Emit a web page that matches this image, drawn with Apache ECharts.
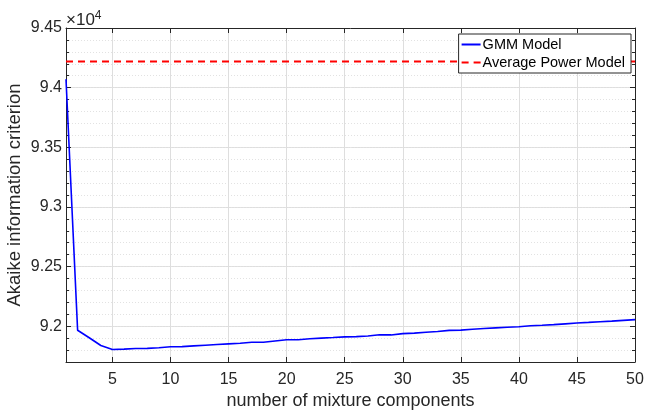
<!DOCTYPE html>
<html lang="en">
<head>
    <meta charset="UTF-8">
    <title>AIC vs mixture components</title>
    <script src="https://cdn.jsdelivr.net/npm/echarts@6.0.0/dist/echarts.min.js"></script>
    <style>
        html, body { margin: 0; padding: 0; background: #fff; }
    </style>
</head>
<body>
    <div id="chart" style="width: 645px; height: 413px;"></div>

    <script>
        // values
        var components = [];
        for (var k = 1; k <= 50; k++) components.push(k);

        var gmmAic = [
            94070, 91966, 91903, 91838, 91805, 91808, 91813, 91814, 91820, 91828,
            91829, 91835, 91841, 91847, 91852, 91857, 91865, 91866, 91876, 91886,
            91887, 91895, 91900, 91905, 91911, 91913, 91918, 91928, 91927, 91938,
            91942, 91950, 91956, 91965, 91967, 91975, 91981, 91986, 91991, 91995,
            92004, 92008, 92013, 92020, 92027, 92032, 92038, 92043, 92049, 92055
        ];
        var avgPowerAic = 94220;

        var xTicks = [5, 10, 15, 20, 25, 30, 35, 40, 45, 50];
        var yTicks = [92000, 92500, 93000, 93500, 94000, 94500];
        var yMin = 91700, yMax = 94500;

        var axisColor = '#262626';
        var font = 'Liberation Sans';

        var gmmData = components.map(function (c, i) { return [c, gmmAic[i]]; });
        var avgData = [[components[0], avgPowerAic], [components[components.length - 1], avgPowerAic]];

        var chart = echarts.init(document.getElementById('chart'));

        chart.setOption({
            animation: false,
            // exponent label of the y axis
            title: {
                text: '×10{sup|4}',
                left: 66,
                top: 10,
                padding: 0,
                textStyle: {
                    fontFamily: font,
                    fontSize: 17,
                    fontWeight: 'normal',
                    color: axisColor,
                    lineHeight: 20,
                    rich: {
                        sup: { fontFamily: font, fontSize: 12, fontWeight: 'normal', color: axisColor, lineHeight: 20, padding: [0, 0, 8, 0] }
                    }
                }
            },
            grid: { left: 66, right: 10, top: 28, bottom: 51, outerBoundsMode: 'none', containLabel: false },
            legend: {
                right: 14,
                top: 34,
                orient: 'vertical',
                backgroundColor: '#fff',
                borderColor: axisColor,
                borderWidth: 1,
                borderRadius: 0,
                padding: [3, 6, 3, 2],
                itemGap: 3,
                itemWidth: 19,
                itemHeight: 10,
                itemStyle: { color: 'rgba(0,0,0,0)', borderWidth: 0, opacity: 0 },
                textStyle: { fontFamily: font, fontSize: 14.5, color: '#000', padding: [0, 0, 0, -3] },
                data: ['GMM Model', 'Average Power Model']
            },
            xAxis: [
                {
                    type: 'value',
                    min: 1,
                    max: 50,
                    name: 'number of mixture components',
                    nameLocation: 'middle',
                    nameGap: 30,
                    nameMoveOverlap: false,
                    nameTextStyle: { fontFamily: font, fontSize: 18, color: axisColor },
                    axisLine: { lineStyle: { color: axisColor, width: 1 } },
                    axisTick: { inside: true, length: 5, customValues: xTicks, lineStyle: { color: axisColor } },
                    axisLabel: { customValues: xTicks, fontFamily: font, fontSize: 16, color: axisColor, margin: 10 },
                    splitLine: { show: true, lineStyle: { color: '#dedede', width: 1 } }
                },
                {
                    type: 'value',
                    position: 'top',
                    min: 1,
                    max: 50,
                    axisLine: { lineStyle: { color: axisColor, width: 1 } },
                    axisTick: { inside: true, length: 5, customValues: xTicks, lineStyle: { color: axisColor } },
                    axisLabel: { show: false },
                    splitLine: { show: false }
                }
            ],
            yAxis: [
                {
                    type: 'value',
                    position: 'left',
                    min: yMin,
                    max: yMax,
                    axisLine: { show: true, lineStyle: { color: axisColor, width: 1 } },
                    axisTick: { inside: true, length: 5, customValues: yTicks, lineStyle: { color: axisColor } },
                    axisLabel: {
                        customValues: yTicks,
                        fontFamily: font, fontSize: 16, color: axisColor, margin: 4,
                        formatter: function (v) { return String(+(v / 1e4).toFixed(2)); }
                    },
                    splitLine: { show: true, lineStyle: { color: '#dedede', width: 1 } }
                },
                {
                    // minor ticks + dotted minor grid
                    type: 'value',
                    position: 'left',
                    offset: 0,
                    min: yMin,
                    max: yMax,
                    interval: 100,
                    name: 'Akaike information criterion',
                    nameLocation: 'middle',
                    nameGap: 42,
                    nameMoveOverlap: false,
                    nameTextStyle: { fontFamily: font, fontSize: 18.5, color: axisColor },
                    axisLine: { show: false },
                    axisTick: { inside: true, length: 3, lineStyle: { color: axisColor } },
                    axisLabel: { show: false },
                    splitLine: { show: true, lineStyle: { color: '#e2e2e2', width: 1, type: [1, 2] } }
                },
                {
                    type: 'value',
                    position: 'right',
                    offset: 0,
                    min: yMin,
                    max: yMax,
                    axisLine: { show: true, lineStyle: { color: axisColor, width: 1 } },
                    axisTick: { inside: true, length: 5, customValues: yTicks, lineStyle: { color: axisColor } },
                    axisLabel: { show: false },
                    splitLine: { show: false }
                },
                {
                    type: 'value',
                    position: 'right',
                    offset: 0,
                    min: yMin,
                    max: yMax,
                    interval: 100,
                    axisLine: { show: false },
                    axisTick: { inside: true, length: 3, lineStyle: { color: axisColor } },
                    axisLabel: { show: false },
                    splitLine: { show: false }
                }
            ],
            series: [
                {
                    name: 'GMM Model',
                    type: 'line',
                    data: gmmData,
                    symbol: 'none',
                    clip: true,
                    lineStyle: { color: '#0000ff', width: 1.6 },
                    itemStyle: { color: '#0000ff' },
                    z: 3
                },
                {
                    name: 'Average Power Model',
                    type: 'line',
                    data: avgData,
                    symbol: 'none',
                    lineStyle: { color: '#ff0000', width: 2, type: [7, 5] },
                    itemStyle: { color: '#ff0000' },
                    z: 3
                }
            ]
        });
    </script>
</body>
</html>
